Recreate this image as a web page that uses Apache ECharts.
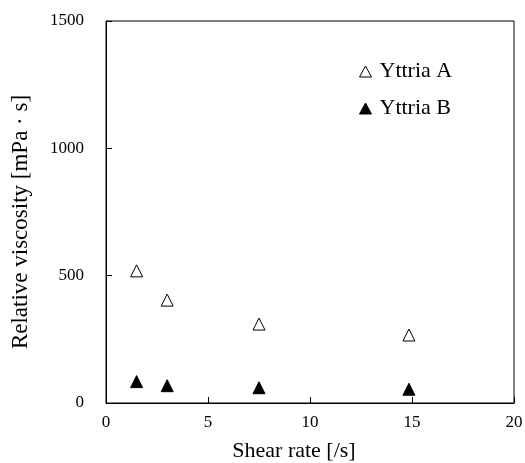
<!DOCTYPE html>
<html>
<head>
<meta charset="utf-8">
<script src="https://cdn.jsdelivr.net/npm/echarts@6/dist/echarts.min.js"></script>
<style>html,body{margin:0;padding:0;background:#fff;}#c{width:525px;height:463px;}</style>
</head>
<body>
<div id="c"></div>
<script>
var xA = [1.5, 3, 7.5, 14.85];
var yA = [519, 404, 310, 267];
var xB = [1.5, 3, 7.5, 14.85];
var yB = [84, 68, 60, 54];
var seriesNames = ['Yttria A', 'Yttria B'];
var xTicks = [0, 5, 10, 15, 20];
var yTicks = [0, 500, 1000, 1500];

function pairs(xs, ys) { return xs.map(function (x, i) { return [x, ys[i]]; }); }

var F = 'Liberation Serif, Times New Roman, serif';
var chart = echarts.init(document.getElementById('c'));
chart.setOption({
  animation: false,
  backgroundColor: '#fff',
  grid: { left: 106, right: 11, top: 21, bottom: 60, show: true, borderColor: '#000', borderWidth: 1, backgroundColor: 'transparent', containLabel: false, outerBoundsMode: 'none' },
  legend: {
    orient: 'vertical', left: 354, top: 55,
    itemWidth: 12, itemHeight: 11, itemGap: 14,
    itemStyle: { borderWidth: 1 },
    textStyle: { fontFamily: F, fontSize: 22, color: '#000', lineHeight: 23, padding: [0, 0, 0, 3] },
    data: seriesNames
  },
  xAxis: {
    type: 'value', min: xTicks[0], max: xTicks[xTicks.length - 1], interval: 5,
    name: 'Shear rate [/s]', nameLocation: 'middle', nameGap: 37,
    nameTextStyle: { fontFamily: F, fontSize: 22, color: '#000', padding: [0, 32, 0, 0] },
    axisLine: { lineStyle: { color: '#000', width: 1 } },
    axisTick: { inside: true, length: 6, lineStyle: { color: '#000' } },
    axisLabel: { fontFamily: F, fontSize: 17, color: '#000', margin: 11, formatter: function (v) { return String(v); } },
    splitLine: { show: false }
  },
  yAxis: {
    type: 'value', min: yTicks[0], max: yTicks[yTicks.length - 1], interval: 500,
    name: 'Relative viscosity [mPa \u00b7 s]', nameLocation: 'middle', nameGap: 74,
    nameTextStyle: { fontFamily: F, fontSize: 23, color: '#000', padding: [0, 20, 0, 0] },
    axisLine: { lineStyle: { color: '#000', width: 1 } },
    axisTick: { inside: true, length: 6, lineStyle: { color: '#000' } },
    axisLabel: { fontFamily: F, fontSize: 17, color: '#000', margin: 22, formatter: function (v) { return String(v); } },
    splitLine: { show: false }
  },
  series: [
    {
      name: seriesNames[0], type: 'scatter', symbol: 'triangle', symbolSize: 12,
      itemStyle: { color: '#fff', borderColor: '#000', borderWidth: 1, opacity: 1 },
      data: pairs(xA, yA)
    },
    {
      name: seriesNames[1], type: 'scatter', symbol: 'triangle', symbolSize: 12,
      itemStyle: { color: '#000', borderColor: '#000', borderWidth: 1, opacity: 1 },
      data: pairs(xB, yB)
    }
  ]
});
</script>
</body>
</html>
